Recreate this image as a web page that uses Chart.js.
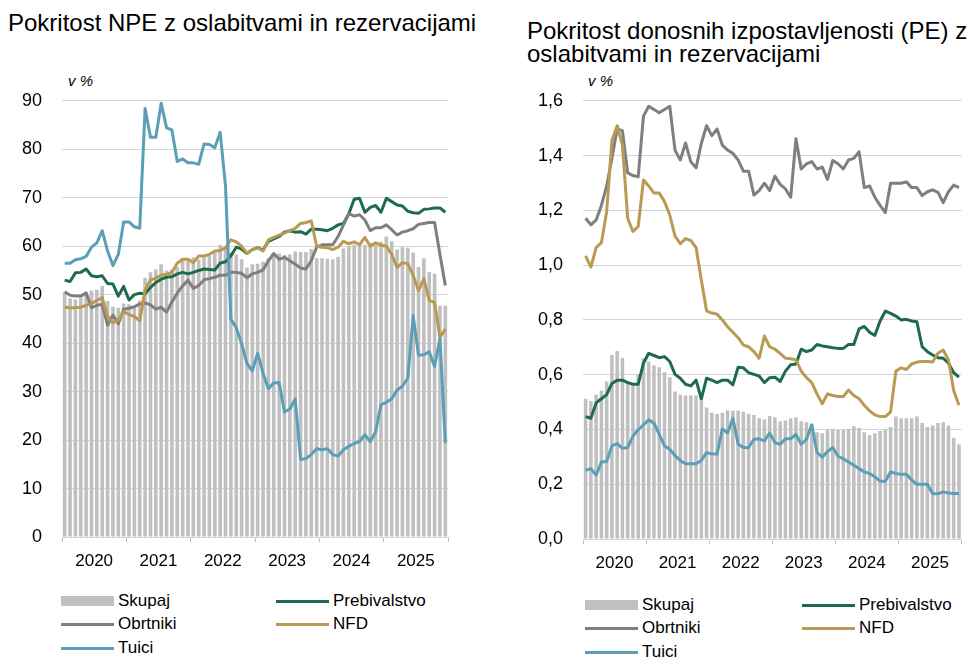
<!DOCTYPE html>
<html>
<head>
<meta charset="utf-8">
<script src="https://cdn.jsdelivr.net/npm/chart.js@4.4.0/dist/chart.umd.min.js"></script>
<style>
  body { margin: 0; width: 968px; height: 657px; background: #fff; position: relative; overflow: hidden;
         font-family: "Liberation Sans", Arial, sans-serif; color: #000; }
  .title { position: absolute; font-size: 24px; line-height: 23px; white-space: nowrap; }
  .unit { position: absolute; font-size: 15px; font-style: italic; }
  canvas { position: absolute; top: 70px; }
  .item { position: absolute; height: 20px; line-height: 20px; font-size: 17px; white-space: nowrap; }
  .item i { position: absolute; left: 0; top: 9px; width: 53px; height: 3px; }
  .item i.box { top: 5px; height: 10px; }
  .item span { position: absolute; left: 57px; top: 0; }
</style>
</head>
<body>
<div class="title" style="left:8px; top:11px;">Pokritost NPE z oslabitvami in rezervacijami</div>
<div class="title" style="left:527px; top:19px;">Pokritost donosnih izpostavljenosti (PE) z<br>oslabitvami in rezervacijami</div>
<div class="unit" style="left:68px; top:72px;">v %</div>
<div class="unit" style="left:588px; top:72px;">v %</div>

<canvas id="npeChart" width="470" height="510" style="left:0px;"></canvas>
<canvas id="peChart" width="478" height="510" style="left:490px;"></canvas>

<div id="legendNpe"></div>
<div id="legendPe"></div>

<script>
// months Jan 2020 - Dec 2025
var years = ['2020', '2021', '2022', '2023', '2024', '2025'];
var months = [];
years.forEach(function(y) {
    for (var m = 1; m <= 12; m++) months.push(y + '-' + (m < 10 ? '0' + m : m));
});

// Pokritost NPE z oslabitvami in rezervacijami (v %)
var npeSkupaj = [50.5, 49.2, 49.0, 49.4, 50.3, 50.8, 51.0, 51.8, 48.7, 47.5, 47.3, 48.2,
    48.0, 47.5, 48.8, 53.5, 54.6, 55.2, 56.3, 55.0, 55.2, 55.7, 57.0, 57.0,
    57.7, 57.3, 57.7, 58.0, 58.7, 60.3, 59.7, 58.7, 58.3, 57.3, 55.6, 56.3,
    56.4, 56.8, 57.5, 58.0, 58.5, 58.2, 58.3, 58.9, 58.8, 58.8, 59.4, 57.5,
    57.5, 57.4, 57.3, 57.8, 59.5, 60.0, 60.3, 60.2, 60.3, 60.7, 60.3, 60.9,
    62.0, 61.0, 59.3, 59.8, 59.7, 58.7, 55.7, 57.5, 54.7, 54.3, 47.7, 47.7];
var npePrebivalstvo = [53.0, 52.7, 54.5, 54.6, 55.3, 53.9, 53.7, 53.9, 52.3, 52.2, 49.7, 51.7,
    48.9, 50.0, 50.3, 50.2, 51.5, 52.5, 53.2, 53.6, 53.7, 54.3, 54.6, 54.3,
    54.6, 55.0, 55.3, 55.2, 55.1, 56.5, 56.8, 58.0, 59.8, 59.4, 58.5, 59.3,
    59.7, 59.2, 61.0, 61.5, 62.0, 62.9, 63.2, 62.9, 63.0, 62.5, 63.5, 63.5,
    63.4, 63.2, 63.7, 64.4, 64.7, 66.7, 69.7, 69.9, 67.0, 68.0, 68.4, 67.0,
    69.9, 69.2, 68.5, 68.3, 67.2, 66.9, 66.8, 67.6, 67.7, 67.9, 67.9, 67.0];
var npeObrtniki = [50.6, 49.9, 49.7, 49.7, 50.4, 47.3, 47.8, 48.0, 43.7, 45.8, 44.0, 47.0,
    47.2, 47.5, 48.1, 48.3, 47.9, 47.0, 47.4, 46.4, 48.5, 50.3, 51.8, 53.0,
    51.3, 51.9, 53.1, 53.3, 53.6, 54.0, 54.0, 54.6, 54.6, 54.4, 53.5, 54.3,
    54.6, 55.1, 57.0, 58.5, 57.3, 57.7, 57.0, 56.3, 55.5, 55.3, 57.0, 59.8,
    60.3, 60.3, 60.3, 62.0, 64.4, 66.7, 66.2, 66.5, 65.4, 63.2, 63.8, 63.8,
    64.4, 63.4, 62.3, 62.9, 63.2, 63.6, 64.5, 64.7, 64.9, 64.9, 58.3, 51.9];
var npeNFD = [47.4, 47.3, 47.3, 47.4, 47.8, 48.2, 48.8, 49.4, 45.5, 44.2, 44.8, 46.5,
    45.9, 45.5, 44.6, 51.0, 53.0, 53.4, 54.0, 54.2, 54.6, 56.5, 57.3, 57.3,
    56.6, 58.0, 58.0, 58.3, 59.0, 59.1, 59.7, 61.3, 60.9, 60.0, 58.5, 59.3,
    59.7, 59.0, 61.3, 61.8, 62.3, 62.7, 63.2, 63.7, 64.7, 64.9, 65.2, 60.0,
    59.8, 59.7, 59.3, 59.8, 61.0, 60.5, 60.9, 60.3, 61.8, 60.0, 60.7, 60.2,
    60.0, 58.3, 55.6, 56.6, 56.4, 54.0, 50.8, 53.3, 48.8, 48.4, 41.2, 42.9];
var npeTujci = [56.5, 56.5, 57.2, 57.4, 57.9, 59.8, 60.7, 63.2, 59.0, 56.0, 58.3, 65.0,
    65.0, 64.0, 63.7, 88.4, 82.5, 82.5, 89.5, 84.4, 84.0, 77.5, 78.0, 77.2,
    77.2, 76.9, 81.1, 81.0, 80.3, 83.5, 72.4, 44.9, 43.2, 39.9, 35.8, 34.3,
    37.9, 33.8, 30.6, 31.8, 31.9, 25.8, 26.4, 28.5, 16.0, 16.2, 17.0, 18.2,
    18.0, 18.2, 17.0, 16.7, 18.0, 18.7, 19.3, 19.7, 21.1, 19.7, 21.7, 27.3,
    27.8, 28.5, 30.3, 31.1, 32.8, 45.7, 37.5, 37.6, 38.2, 35.2, 40.9, 19.4];

// Pokritost donosnih izpostavljenosti (PE) z oslabitvami in rezervacijami (v %)
var peSkupaj = [0.512, 0.504, 0.527, 0.542, 0.575, 0.672, 0.686, 0.662, 0.575, 0.570, 0.601, 0.660,
    0.648, 0.634, 0.627, 0.610, 0.591, 0.539, 0.527, 0.524, 0.524, 0.524, 0.527, 0.480,
    0.461, 0.456, 0.461, 0.470, 0.468, 0.468, 0.465, 0.457, 0.453, 0.441, 0.437, 0.449,
    0.445, 0.430, 0.433, 0.441, 0.445, 0.430, 0.426, 0.421, 0.390, 0.386, 0.400, 0.402,
    0.398, 0.398, 0.402, 0.412, 0.406, 0.390, 0.379, 0.386, 0.394, 0.400, 0.409, 0.447,
    0.441, 0.441, 0.441, 0.447, 0.424, 0.409, 0.414, 0.424, 0.426, 0.414, 0.370, 0.346];
var pePrebivalstvo = [0.447, 0.441, 0.497, 0.512, 0.527, 0.568, 0.580, 0.580, 0.571, 0.565, 0.565, 0.642,
    0.678, 0.670, 0.662, 0.666, 0.648, 0.601, 0.587, 0.565, 0.559, 0.580, 0.512, 0.587,
    0.580, 0.571, 0.580, 0.580, 0.563, 0.627, 0.625, 0.607, 0.601, 0.595, 0.571, 0.589,
    0.591, 0.575, 0.613, 0.636, 0.639, 0.693, 0.684, 0.690, 0.710, 0.705, 0.702, 0.698,
    0.696, 0.696, 0.710, 0.710, 0.767, 0.776, 0.755, 0.743, 0.796, 0.832, 0.824, 0.814,
    0.800, 0.802, 0.796, 0.793, 0.702, 0.684, 0.672, 0.662, 0.660, 0.642, 0.607, 0.591];
var peObrtniki = [1.171, 1.147, 1.165, 1.218, 1.289, 1.390, 1.497, 1.491, 1.337, 1.327, 1.323, 1.544,
    1.580, 1.568, 1.556, 1.568, 1.580, 1.420, 1.384, 1.446, 1.378, 1.355, 1.444, 1.509,
    1.473, 1.497, 1.438, 1.420, 1.408, 1.384, 1.343, 1.343, 1.256, 1.272, 1.299, 1.272,
    1.325, 1.295, 1.278, 1.248, 1.461, 1.351, 1.370, 1.378, 1.351, 1.358, 1.313, 1.382,
    1.370, 1.351, 1.384, 1.390, 1.414, 1.283, 1.289, 1.248, 1.218, 1.192, 1.299, 1.299,
    1.299, 1.304, 1.283, 1.283, 1.254, 1.268, 1.275, 1.266, 1.228, 1.268, 1.292, 1.283];
var peNFD = [1.034, 0.993, 1.064, 1.082, 1.195, 1.455, 1.509, 1.438, 1.171, 1.123, 1.141, 1.311,
    1.289, 1.263, 1.263, 1.232, 1.183, 1.106, 1.078, 1.097, 1.090, 1.064, 0.946, 0.833,
    0.825, 0.821, 0.800, 0.775, 0.755, 0.735, 0.708, 0.702, 0.684, 0.660, 0.741, 0.702,
    0.693, 0.678, 0.660, 0.658, 0.654, 0.613, 0.589, 0.571, 0.530, 0.494, 0.530, 0.524,
    0.520, 0.520, 0.544, 0.524, 0.512, 0.488, 0.468, 0.453, 0.447, 0.447, 0.464, 0.613,
    0.625, 0.619, 0.639, 0.646, 0.648, 0.648, 0.646, 0.678, 0.690, 0.654, 0.542, 0.488];
var peTujci = [0.251, 0.257, 0.233, 0.281, 0.283, 0.340, 0.348, 0.331, 0.334, 0.376, 0.399, 0.417,
    0.435, 0.423, 0.382, 0.340, 0.328, 0.304, 0.287, 0.275, 0.275, 0.275, 0.287, 0.316,
    0.310, 0.310, 0.402, 0.387, 0.441, 0.346, 0.334, 0.334, 0.364, 0.366, 0.358, 0.387,
    0.352, 0.346, 0.366, 0.366, 0.382, 0.346, 0.364, 0.417, 0.316, 0.299, 0.319, 0.334,
    0.302, 0.293, 0.281, 0.269, 0.257, 0.245, 0.239, 0.227, 0.211, 0.211, 0.245, 0.239,
    0.236, 0.236, 0.216, 0.200, 0.200, 0.200, 0.165, 0.165, 0.172, 0.168, 0.166, 0.166];

var colors = {
    Skupaj: '#c0c0c0',
    Prebivalstvo: '#1e6b4c',
    Obrtniki: '#7f7f7f',
    NFD: '#b89a52',
    Tujci: '#5b9fb6'
};
var gridColor = '#d4d4d4';
var fontFamily = '"Liberation Sans", Arial, sans-serif';

function lineSet(label, data, order) {
    return {
        type: 'line', label: label, data: data, order: order,
        borderColor: colors[label], borderWidth: 3, pointRadius: 0,
        fill: false, tension: 0, borderJoinStyle: 'round'
    };
}

function makeChart(id, s, yMax, yStep, fmt, axisWidth, padRight, xHeight) {
    var ctx = document.getElementById(id).getContext('2d');
    return new Chart(ctx, {
        type: 'bar',
        data: {
            labels: months,
            datasets: [
                { type: 'bar', label: 'Skupaj', data: s.Skupaj, order: 10,
                  backgroundColor: colors.Skupaj, barPercentage: 0.68, categoryPercentage: 1.0 },
                lineSet('Prebivalstvo', s.Prebivalstvo, 4),
                lineSet('Obrtniki', s.Obrtniki, 3),
                lineSet('NFD', s.NFD, 2),
                lineSet('Tujci', s.Tujci, 1)
            ]
        },
        options: {
            responsive: false,
            animation: false,
            layout: { padding: { top: 19, right: padRight, left: 0, bottom: 0 } },
            plugins: { legend: { display: false }, tooltip: { enabled: false } },
            scales: {
                x: {
                    offset: true,
                    border: { display: false },
                    grid: {
                        offset: true, drawOnChartArea: false, drawTicks: true, tickLength: 5,
                        color: function(c) {
                            return (c.index === undefined || c.index % 12 === 0) ? '#bfbfbf' : 'rgba(0,0,0,0)';
                        }
                    },
                    ticks: {
                        autoSkip: false, maxRotation: 0, minRotation: 0, padding: 9,
                        labelOffset: -2.7, color: '#000', font: { family: fontFamily, size: 17 },
                        callback: function(v, i) { return i % 12 === 6 ? months[i].slice(0, 4) : ''; }
                    },
                    afterFit: function(sc) { sc.height = xHeight; }
                },
                y: {
                    min: 0, max: yMax,
                    border: { display: false },
                    grid: { color: gridColor, lineWidth: 1, drawTicks: false },
                    ticks: {
                        stepSize: yStep, padding: 20, color: '#000',
                        font: { family: fontFamily, size: 18 },
                        callback: fmt
                    },
                    afterFit: function(sc) { sc.width = axisWidth; }
                }
            }
        }
    });
}

makeChart('npeChart', {
    Skupaj: npeSkupaj, Prebivalstvo: npePrebivalstvo, Obrtniki: npeObrtniki, NFD: npeNFD, Tujci: npeTujci
}, 90, 10, function(v) { return String(v); }, 62, 22, 43);

makeChart('peChart', {
    Skupaj: peSkupaj, Prebivalstvo: pePrebivalstvo, Obrtniki: peObrtniki, NFD: peNFD, Tujci: peTujci
}, 1.6, 0.2, function(v) { return v.toFixed(1).replace('.', ','); }, 93, 5, 41);

// legends, two columns like the original
function buildLegend(id, x1, x2, y0) {
    var items = [
        ['Skupaj', x1, y0, true], ['Prebivalstvo', x2, y0, false],
        ['Obrtniki', x1, y0 + 23, false], ['NFD', x2, y0 + 23, false],
        ['Tuici', x1, y0 + 47, false]
    ];
    var keys = { Tuici: 'Tujci' };
    var html = '';
    items.forEach(function(it) {
        var c = colors[keys[it[0]] || it[0]];
        html += '<div class="item" style="left:' + it[1] + 'px;top:' + (it[2] - 10) + 'px;">' +
            '<i class="' + (it[3] ? 'box' : '') + '" style="background:' + c + '"></i>' +
            '<span>' + it[0] + '</span></div>';
    });
    document.getElementById(id).innerHTML = html;
}
buildLegend('legendNpe', 61, 276, 601);
buildLegend('legendPe', 585, 802, 605);
</script>
</body>
</html>
